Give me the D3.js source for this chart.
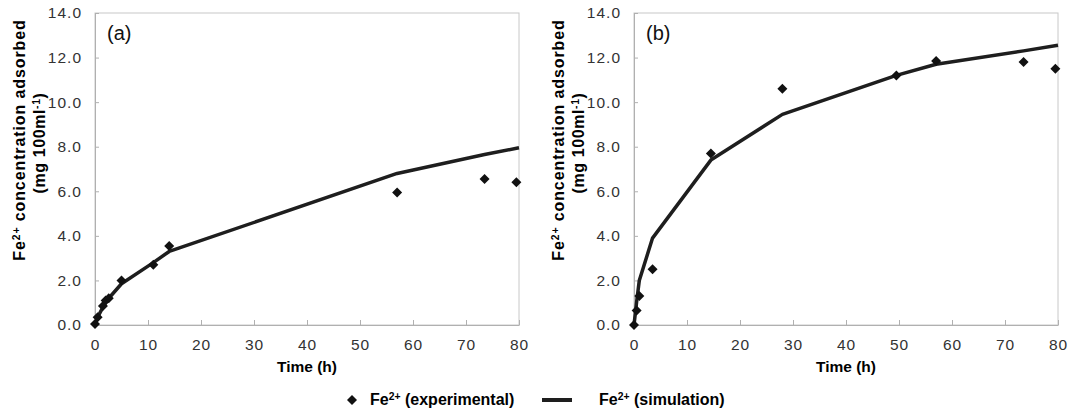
<!DOCTYPE html>
<html>
<head>
<meta charset="utf-8">
<script src="https://cdn.jsdelivr.net/npm/d3@7"></script>
<style>
  body { margin: 0; background: #fff; }
  text { font-family: "Liberation Sans", Arial, sans-serif; }
</style>
</head>
<body>
<div id="chart"></div>
<script>
// x and y ticks
const timeTicks = [0, 10, 20, 30, 40, 50, 60, 70, 80];
const concTicks = [0, 2, 4, 6, 8, 10, 12, 14];

// panel (a)
const expTimeA = [0, 0.5, 1.5, 2, 2.6, 5, 11, 14, 57, 73.5, 79.5];
const expConcA = [0.05, 0.35, 0.85, 1.1, 1.2, 2.0, 2.7, 3.55, 5.95, 6.55, 6.4];
const simTimeA = [0, 0.5, 1.5, 2, 2.6, 5, 11, 14, 57, 73.5, 80];
const simConcA = [0, 0.35, 0.8, 1.0, 1.2, 1.85, 2.8, 3.3, 6.8, 7.65, 7.95];

// panel (b)
const expTimeB = [0, 0.5, 1, 3.5, 14.5, 28, 49.5, 57, 73.5, 79.5];
const expConcB = [0, 0.65, 1.3, 2.5, 7.7, 10.6, 11.2, 11.85, 11.8, 11.5];
const simTimeB = [0, 0.5, 1, 3.5, 14.5, 28, 49.5, 57, 73.5, 80];
const simConcB = [0, 1.05, 2.0, 3.9, 7.4, 9.45, 11.2, 11.7, 12.3, 12.55];

const width = 1071, height = 411;
const plotTop = 13, plotBottom = 325, plotW = 424;

const svg = d3.select("#chart").append("svg")
    .attr("width", width)
    .attr("height", height);

// text with Fe2+ superscript
function feText(sel, rest) {
    sel.append("tspan").text("Fe");
    sel.append("tspan").attr("font-size", "0.65em").attr("dy", "-0.45em").text("2+");
    sel.append("tspan").attr("dy", "0.3em").text(rest);
}

function drawPanel(left, label, expT, expC, simT, simC) {
    const x = d3.scaleLinear().domain([0, 80]).range([left, left + plotW]);
    const y = d3.scaleLinear().domain([0, 14]).range([plotBottom, plotTop]);
    const g = svg.append("g");

    // frame
    g.append("rect")
        .attr("x", left).attr("y", plotTop)
        .attr("width", plotW).attr("height", plotBottom - plotTop)
        .attr("fill", "none").attr("stroke", "#c8c8c8").attr("stroke-width", 1);

    const xAxis = g.append("g")
        .attr("transform", `translate(0,${plotBottom})`)
        .call(d3.axisBottom(x).tickValues(timeTicks).tickSizeInner(-5).tickSizeOuter(0).tickPadding(14));
    const yAxis = g.append("g")
        .attr("transform", `translate(${left},0)`)
        .call(d3.axisLeft(y).tickValues(concTicks).tickFormat(d3.format(".1f"))
            .tickSizeInner(-4).tickSizeOuter(0).tickPadding(13));
    [xAxis, yAxis].forEach(a => {
        a.select(".domain").attr("stroke", "#b0b0b0");
        a.selectAll(".tick line").attr("stroke", "#b0b0b0");
        a.selectAll(".tick text").attr("fill", "#333").attr("font-size", 15.5)
            .attr("letter-spacing", 1)
            .attr("font-family", "Liberation Sans, Arial, sans-serif");
    });

    // simulation line
    const line = d3.line().x(d => x(d[0])).y(d => y(d[1]));
    g.append("path")
        .datum(d3.zip(simT, simC))
        .attr("d", line)
        .attr("fill", "none")
        .attr("stroke", "#1e1e1e")
        .attr("stroke-width", 3.5)
        .attr("stroke-linejoin", "round");

    // experimental diamonds
    const diamond = d3.symbol().type(d3.symbolSquare).size(50);
    g.selectAll(".pt")
        .data(d3.zip(expT, expC))
        .enter().append("path")
        .attr("class", "pt")
        .attr("d", diamond)
        .attr("fill", "#111")
        .attr("transform", d => `translate(${x(d[0])},${y(d[1])}) rotate(45)`);

    // panel label
    g.append("text")
        .attr("x", left + 12).attr("y", 40)
        .attr("font-size", 20).attr("fill", "#111")
        .text(label);

    // x title
    g.append("text")
        .attr("x", left + plotW / 2).attr("y", 372)
        .attr("text-anchor", "middle")
        .attr("font-size", 15.5).attr("font-weight", "bold")
        .text("Time (h)");

    // y title
    const yt = g.append("text")
        .attr("transform", `translate(${left - 70},140) rotate(-90)`)
        .attr("text-anchor", "middle")
        .attr("font-size", 16).attr("font-weight", "bold")
        .attr("letter-spacing", 0.9);
    feText(yt, " concentration  adsorbed");
    const yt2 = g.append("text")
        .attr("transform", `translate(${left - 50},143) rotate(-90)`)
        .attr("text-anchor", "middle")
        .attr("font-size", 16).attr("font-weight", "bold")
        .attr("letter-spacing", 0.6);
    yt2.append("tspan").text("(mg 100ml");
    yt2.append("tspan").attr("font-size", "0.65em").attr("dy", "-0.45em").text("-1");
    yt2.append("tspan").attr("dy", "0.3em").text(")");
}

drawPanel(95, "(a)", expTimeA, expConcA, simTimeA, simConcA);
drawPanel(634, "(b)", expTimeB, expConcB, simTimeB, simConcB);

// legend
const legend = svg.append("g");
legend.append("path")
    .attr("d", d3.symbol().type(d3.symbolSquare).size(50))
    .attr("fill", "#111")
    .attr("transform", "translate(352,400) rotate(45)");
const l1 = legend.append("text")
    .attr("x", 370).attr("y", 405)
    .attr("font-size", 16).attr("font-weight", "bold");
feText(l1, " (experimental)");
legend.append("line")
    .attr("x1", 542).attr("x2", 572)
    .attr("y1", 400).attr("y2", 400)
    .attr("stroke", "#1e1e1e").attr("stroke-width", 4);
const l2 = legend.append("text")
    .attr("x", 599).attr("y", 405)
    .attr("font-size", 16).attr("font-weight", "bold");
feText(l2, " (simulation)");
</script>
</body>
</html>
